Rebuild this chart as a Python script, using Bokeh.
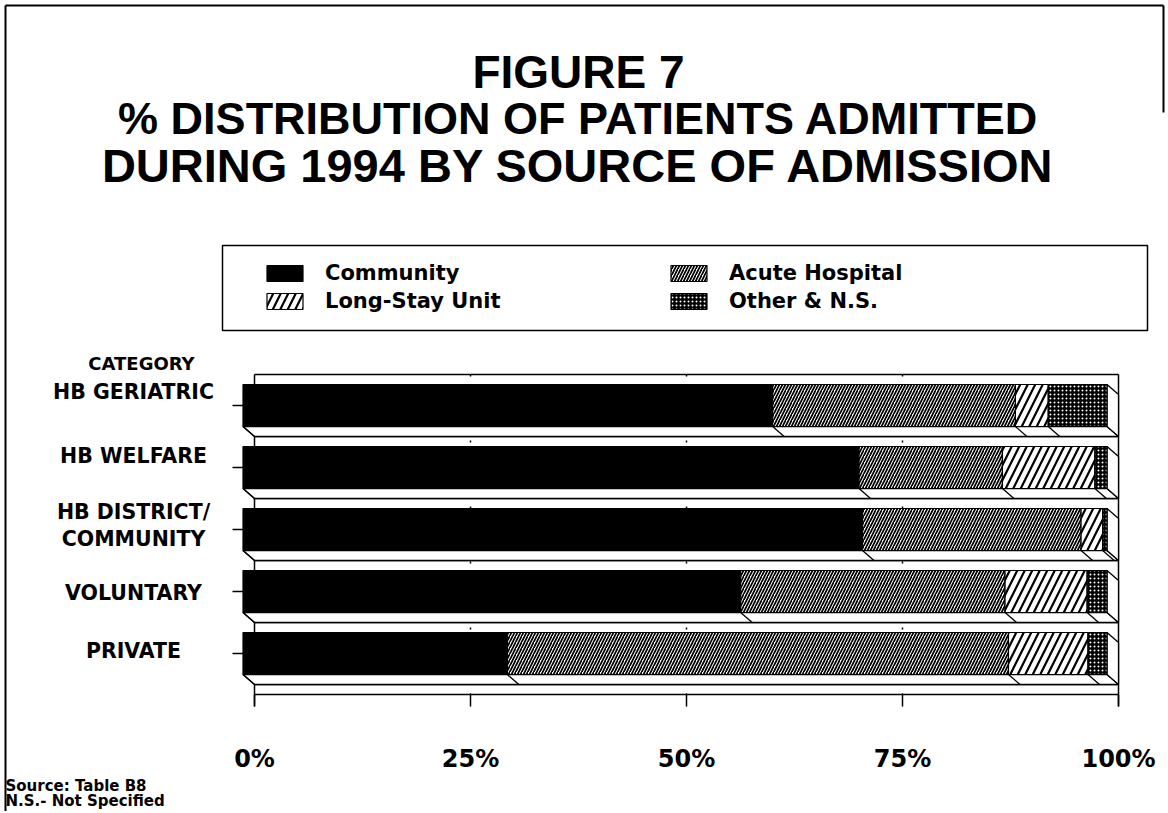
from bokeh.plotting import figure
from bokeh.models import Range1d, Legend, LegendItem, Label, ColumnDataSource
from bokeh.core.properties import value
from bokeh.embed import file_html
from bokeh.resources import INLINE

# ---------------- data ----------------
categories = ["HB GERIATRIC", "HB WELFARE", "HB DISTRICT/\nCOMMUNITY", "VOLUNTARY", "PRIVATE"]
community = [61.3, 71.3, 71.7, 57.6, 30.6]
acute_hospital = [28.1, 16.6, 25.3, 30.6, 58.0]
long_stay_unit = [3.8, 10.7, 2.5, 9.5, 9.2]
other_ns = [6.8, 1.4, 0.5, 2.3, 2.2]
series_names = ["Community", "Acute Hospital", "Long-Stay Unit", "Other & N.S."]
x_ticks = [0, 25, 50, 75, 100]
x_tick_labels = ["0%", "25%", "50%", "75%", "100%"]

# ---------------- layout ----------------
W, H = 1166, 811
PX = 8.64            # pixels per percent
X0 = 254             # canvas x of 0 %
ROW = 62.0           # pixels per category row
Y0 = 653             # canvas y of the lowest row centre

def X(px):           # picture x -> data x
    return (px - X0) / PX

def Y(py):           # picture y -> data y
    return (Y0 - py) / ROW

DX = -11.5 / PX      # 3-D depth offset (front face shifted left)
DY = 10.0 / ROW      # and up
HH = 21.0 / ROW      # half height of the front face

p = figure(width=W, height=H, output_backend="svg", toolbar_location=None,
           x_range=Range1d(-X0 / PX, (W - X0) / PX),
           y_range=Range1d((Y0 - H) / ROW, Y0 / ROW),
           x_axis_location=None, y_axis_location=None, min_border=0)
p.grid.visible = False
p.outline_line_color = None
p.background_fill_color = "white"

n = len(categories)
ypos = [float(n - 1 - i) for i in range(n)]
series = [community, acute_hospital, long_stay_unit, other_ns]
totals = [sum(s[i] for s in series) for i in range(n)]

FONT = "DejaVu Sans"

# ---------------- back wall ----------------
wall_top = max(ypos) + 0.5
wall_bot = Y(694)
tick_bot = Y(706)
p.segment(x0=[0, totals[0]], y0=[wall_top, wall_top], x1=[0, totals[0]], y1=[tick_bot, tick_bot],
          line_color="black", line_width=1.5)
rows_b = [v + 0.5 for v in ypos] + [min(ypos) - 0.5, wall_bot]
p.segment(x0=[0] * len(rows_b), y0=rows_b, x1=[100] * len(rows_b), y1=rows_b,
          line_color="black", line_width=1.5)
# faint grid on the wall
p.segment(x0=x_ticks[1:-1], y0=[wall_top] * 3, x1=x_ticks[1:-1], y1=[wall_bot] * 3,
          line_color="black", line_width=1.5, line_dash="2 9")
# axis ticks
p.segment(x0=x_ticks, y0=[wall_bot] * len(x_ticks), x1=x_ticks, y1=[tick_bot] * len(x_ticks),
          line_color="black", line_width=1.5)

# ---------------- side / bottom faces ----------------
bx, by, rx, ry = [], [], [], []
for v, t in zip(ypos, totals):
    bx.append([DX, t + DX, t, 0])
    by.append([v - HH, v - HH, v - HH - DY, v - HH - DY])
    rx.append([t + DX, t + DX, t, t])
    ry.append([v - HH, v + HH, v + HH - DY, v - HH - DY])
p.patches(xs=bx, ys=by, fill_color="white", line_color="black", line_width=1.3)
p.patches(xs=rx, ys=ry, fill_color="white", line_color="black", line_width=1.3)
dx0, dy0, dx1, dy1 = [], [], [], []
for i, v in enumerate(ypos):
    c = 0.0
    for s in [None] + series[:-1]:
        if s is not None:
            c += s[i]
        dx0.append(c + DX); dy0.append(v - HH); dx1.append(c); dy1.append(v - HH - DY)
p.segment(x0=dx0, y0=dy0, x1=dx1, y1=dy1, line_color="black", line_width=1.3)

# ---------------- front faces ----------------
styles = [
    dict(fill_color="black", hatch_pattern=None),
    dict(fill_color="white", hatch_pattern="/", hatch_color="black", hatch_scale=6, hatch_weight=1.7),
    dict(fill_color="white", hatch_pattern="/", hatch_color="black", hatch_scale=15, hatch_weight=2.2),
    dict(fill_color="black", hatch_pattern="dot", hatch_color="white", hatch_scale=4, hatch_weight=1.1),
]
renderers = []
left = [0.0] * n
for s, st in zip(series, styles):
    right = [l + val for l, val in zip(left, s)]
    src = ColumnDataSource(dict(left=[l + DX for l in left], right=[r + DX for r in right],
                                bottom=[v - HH for v in ypos], top=[v + HH for v in ypos]))
    kw = {k: vv for k, vv in st.items() if vv is not None}
    r = p.quad(left="left", right="right", bottom="bottom", top="top", source=src,
               line_color="black", line_width=1.2, **kw)
    renderers.append(r)
    left = right

# category ticks on the left
p.segment(x0=[X(232)] * n, y0=ypos, x1=[DX] * n, y1=ypos, line_color="black", line_width=1.5)

# ---------------- texts ----------------
label_nudge = [-14, -12, -4, 1, -3]
p.text(x=[X(133)] * n, y=[v - d / ROW for v, d in zip(ypos, label_nudge)], text=categories,
       text_align="center", text_baseline="middle", text_font=value(FONT), text_font_style="bold",
       text_font_size="20.5px", text_color="black", text_line_height=1.15)
p.text(x=x_ticks, y=[Y(758)] * len(x_ticks), text=x_tick_labels, text_align="center",
       text_baseline="middle", text_font=value(FONT), text_font_style="bold",
       text_font_size="24px", text_color="black")

p.add_layout(Label(x=X(141), y=Y(363), text="CATEGORY", text_align="center", text_baseline="middle",
                   text_font=FONT, text_font_style="bold", text_font_size="18px", text_color="black"))
for txt, yy, fs in [("FIGURE 7", 71, "46px"), ("% DISTRIBUTION OF PATIENTS ADMITTED", 118, "45px"),
                    ("DURING 1994 BY SOURCE OF ADMISSION", 165, "47px")]:
    p.add_layout(Label(x=X(578), y=Y(yy), text=txt, text_align="center", text_baseline="middle",
                       text_font="Liberation Sans", text_font_style="bold", text_font_size=fs,
                       text_color="black"))
for txt, yy in [("Source: Table B8", 785), ("N.S.- Not Specified", 800)]:
    p.add_layout(Label(x=X(5), y=Y(yy), text=txt, text_align="left", text_baseline="middle",
                       text_font=FONT, text_font_style="bold", text_font_size="15px",
                       text_color="black"))

# borders of the page and legend box
p.segment(x0=[X(5), X(5), X(1163)], y0=[Y(5), Y(5), Y(5)],
          x1=[X(1163), X(5), X(1163)], y1=[Y(5), Y(811), Y(112)],
          line_color="black", line_width=2)
p.quad(left=[X(222)], right=[X(1147)], top=[Y(245)], bottom=[Y(330)],
       fill_color=None, line_color="black", line_width=1.5)

# ---------------- legend ----------------
common = dict(padding=0, margin=0, border_line_color=None, background_fill_alpha=0,
              glyph_width=45, glyph_height=20, label_standoff=18, spacing=4,
              label_text_font=FONT, label_text_font_style="bold", label_text_font_size="21px",
              label_text_color="black", label_height=20)
legA = Legend(items=[LegendItem(label=series_names[0], renderers=[renderers[0]]),
                     LegendItem(label=series_names[2], renderers=[renderers[2]])],
              location=(262, H - 313), **common)
legB = Legend(items=[LegendItem(label=series_names[1], renderers=[renderers[1]]),
                     LegendItem(label=series_names[3], renderers=[renderers[3]])],
              location=(666, H - 313), **common)
p.add_layout(legA)
p.add_layout(legB)

open("out.html", "w").write(file_html(p, INLINE))
